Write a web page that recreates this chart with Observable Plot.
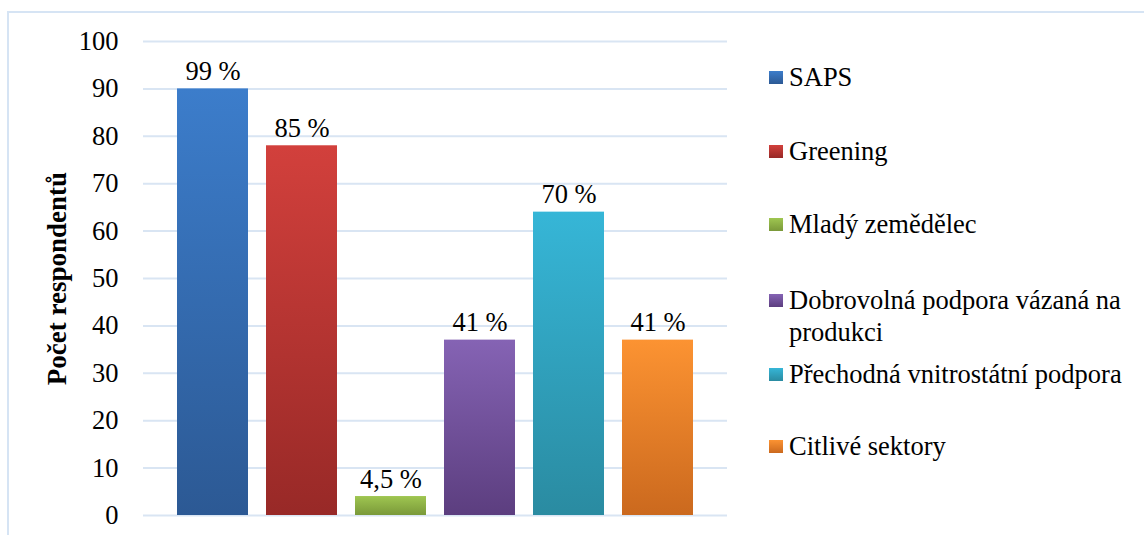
<!DOCTYPE html>
<html>
<head>
<meta charset="utf-8">
<script src="https://cdn.jsdelivr.net/npm/d3@7"></script>
<script src="https://cdn.jsdelivr.net/npm/@observablehq/plot@0.6"></script>
</head>
<body style="margin:0;padding:0;background:#fff">
<div id="wrap" style="position:relative;width:1144px;height:535px;overflow:hidden;background:#fff;color:#000;font-family:'Liberation Serif'">
  <div id="frame" style="position:absolute;left:7px;top:11px;right:-10px;bottom:-10px;border-left:2px solid #d6e4f4;border-top:2px solid #d6e4f4"></div>
  <div id="chart" style="position:absolute;left:0;top:0"></div>
  <div id="legend"></div>
</div>
<script>
const series = ["SAPS", "Greening", "Mladý zemědělec", "Dobrovolná podpora vázaná na produkci", "Přechodná vnitrostátní podpora", "Citlivé sektory"];
const legendLines = [["SAPS"], ["Greening"], ["Mladý zemědělec"], ["Dobrovolná podpora vázaná na", "produkci"], ["Přechodná vnitrostátní podpora"], ["Citlivé sektory"]];
const counts = [90, 78, 4, 37, 64, 37];
const labels = ["99 %", "85 %", "4,5 %", "41 %", "70 %", "41 %"];
const colorsTop = ["#3c7dcb", "#d2403c", "#9fc651", "#8563b4", "#36b6d7", "#fc9332"];
const colorsBottom = ["#2c5994", "#982927", "#7a9939", "#5c3e7f", "#2a8ba1", "#cb691e"];
const yTicks = [0, 10, 20, 30, 40, 50, 60, 70, 80, 90, 100];
const yTitle = "Počet respondentů";

const data = series.map((s, i) => ({series: s, count: counts[i], label: labels[i]}));

const FONT = "Liberation Serif";
const FS = "26.5px";

const chart = Plot.plot({
  width: 1144,
  height: 535,
  marginLeft: 143,
  marginRight: 417,
  marginTop: 41,
  marginBottom: 20,
  style: {fontSize: FS, color: "#000", background: "transparent", overflow: "visible"},
  x: {domain: series, axis: null, paddingInner: 0.2, paddingOuter: 0.1, insetLeft: 25, insetRight: 25},
  y: {domain: [0, 100]},
  color: {domain: series, range: series.map((s, i) => `url(#grad${i})`)},
  marks: [
    Plot.ruleY(yTicks, {stroke: "#d9e5f3", strokeWidth: 2}),
    Plot.axisY(yTicks, {tickSize: 0, tickPadding: 25, label: null, fontSize: FS, fill: "#000"}),
    Plot.barY(data, {x: "series", y: "count", fill: "series"}),
    Plot.text(data, {x: "series", y: "count", text: "label", lineAnchor: "bottom", dy: -9, fontSize: FS, fill: "#000"}),
    Plot.text([yTitle], {frameAnchor: "left", textAnchor: "middle", lineAnchor: "middle", rotate: -90, dx: -86, fontWeight: "bold", fontSize: "27px", fill: "#000"})
  ]
});

const svg = d3.select(chart);
svg.style("font-family", FONT);
svg.selectAll("text").attr("font-family", FONT).style("font-family", FONT);
svg.selectAll("g").style("font-family", FONT);
const defs = svg.insert("defs", ":first-child");
series.forEach((s, i) => {
  const g = defs.append("linearGradient").attr("id", `grad${i}`)
    .attr("x1", 0).attr("y1", 0).attr("x2", 0).attr("y2", 1);
  g.append("stop").attr("offset", "0%").attr("stop-color", colorsTop[i]);
  g.append("stop").attr("offset", "100%").attr("stop-color", colorsBottom[i]);
});
document.getElementById("chart").appendChild(chart);

// Legend
const legendTops = [61, 135, 208, 284, 358, 430];
const legend = d3.select("#legend");
series.forEach((s, i) => {
  const item = legend.append("div")
    .style("position", "absolute").style("left", "769px").style("top", legendTops[i] + "px")
    .style("font-family", FONT).style("font-size", FS).style("line-height", "32px")
    .style("white-space", "nowrap").style("color", "#000");
  item.append("div")
    .style("position", "absolute").style("left", "0px").style("top", "9.5px")
    .style("width", "13.5px").style("height", "13.5px")
    .style("background", `linear-gradient(to bottom, ${colorsTop[i]}, ${colorsBottom[i]})`);
  item.append("div")
    .style("position", "absolute").style("left", "20px").style("top", "0px")
    .style("font-family", FONT)
    .html(legendLines[i].join("<br>"));
});
</script>
</body>
</html>
